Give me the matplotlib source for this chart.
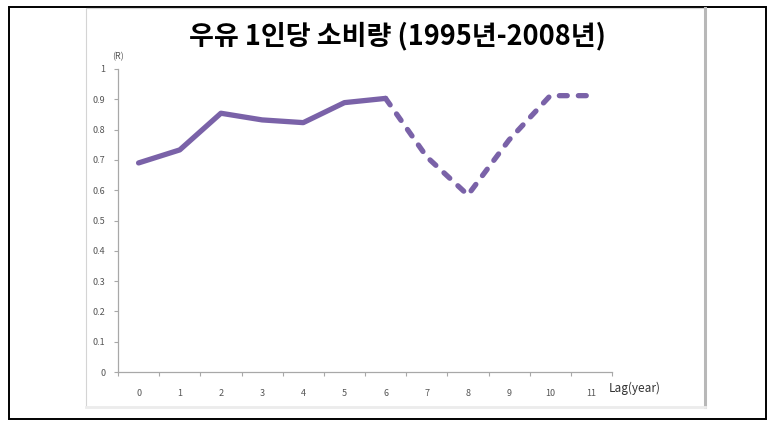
import matplotlib
matplotlib.use("Agg")
import matplotlib.pyplot as plt
from matplotlib.patches import Rectangle
from matplotlib.lines import Line2D

plt.rcParams['font.family'] = ['Noto Sans CJK KR', 'DejaVu Sans']

title = "우유 1인당 소비량 (1995년-2008년)"
lags = [0, 1, 2, 3, 4, 5, 6, 7, 8, 9, 10, 11]
r_values = [0.69, 0.733, 0.854, 0.832, 0.823, 0.889, 0.903, 0.71, 0.584, 0.766, 0.912, 0.912]
solid_upto = 6  # solid line for lags 0..6, dashed afterwards
y_ticks = [0, 0.1, 0.2, 0.3, 0.4, 0.5, 0.6, 0.7, 0.8, 0.9, 1]
y_tick_labels = ["0", "0.1", "0.2", "0.3", "0.4", "0.5", "0.6", "0.7", "0.8", "0.9", "1"]
x_label = "Lag(year)"
y_label = "(R)"

W, H = 775, 429
fig = plt.figure(figsize=(W / 100, H / 100), dpi=100)
fig.patch.set_facecolor('white')

def fx(px):
    return px / W

def fy(py):
    return 1 - py / H

# outer black frame
fig.add_artist(Rectangle((fx(9), fy(419)), fx(766) - fx(9), fy(7) - fy(419),
                         transform=fig.transFigure, fill=False, edgecolor='black', lw=1.4))
# inner chart panel
fig.add_artist(Rectangle((fx(86), fy(407)), fx(705) - fx(86), fy(8) - fy(407),
                         transform=fig.transFigure, fill=False, edgecolor='#d4d4d4', lw=0.8))
fig.add_artist(Line2D([fx(705), fx(705)], [fy(8), fy(407)], transform=fig.transFigure,
                      color='#b8b8b8', lw=2.2))
fig.add_artist(Line2D([fx(86), fx(705)], [fy(407), fy(407)], transform=fig.transFigure,
                      color='#ececec', lw=2.0))

ax = fig.add_axes([fx(118), fy(372), fx(612) - fx(118), fy(69) - fy(372)])
ax.set_xlim(-0.5, 11.5)
ax.set_ylim(0, 1)
for s in ['top', 'right']:
    ax.spines[s].set_visible(False)
for s in ['left', 'bottom']:
    ax.spines[s].set_color('#a8a8a8')
    ax.spines[s].set_linewidth(0.9)

color = '#7A62A8'
ax.plot(lags[:solid_upto + 1], r_values[:solid_upto + 1], color=color, lw=3.8,
        solid_capstyle='round', solid_joinstyle='round')
ax.plot(lags[solid_upto:], r_values[solid_upto:], color=color, lw=3.8,
        linestyle=(0, (1.5, 2.1)), dash_capstyle='round', solid_joinstyle='round')

ax.set_yticks(y_ticks)
ax.set_yticklabels(y_tick_labels)
ax.set_xticks(lags)
ax.set_xticklabels([str(v) for v in lags])
ax.set_xticks([v - 0.5 for v in lags] + [11.5], minor=True)
ax.tick_params(axis='x', which='major', length=0, pad=12, labelsize=6.5, labelcolor='#555555')
ax.tick_params(axis='x', which='minor', length=3, width=0.8, color='#a8a8a8', direction='out')
ax.tick_params(axis='y', length=3, width=0.8, color='#a8a8a8', direction='out',
               labelsize=6.5, labelcolor='#555555', pad=6)

fig.text(fx(609), fy(388), x_label, fontsize=8.5, color='#333333', ha='left', va='center')
fig.text(fx(118), fy(57), y_label, fontsize=6.5, color='#555555', ha='center', va='center')
fig.text(fx(397), fy(36), title, fontsize=19.5, fontweight='bold', color='black',
         ha='center', va='center')

fig.savefig('out.png', dpi=100, facecolor='white')
